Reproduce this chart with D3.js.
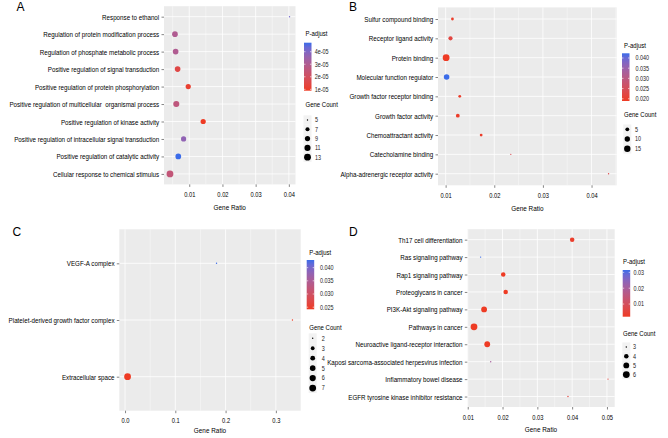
<!DOCTYPE html>
<html><head><meta charset="utf-8">
<script src="https://cdn.jsdelivr.net/npm/d3@7"></script>
<style>body{margin:0;background:#fff} svg{display:block} text{font-family:"Liberation Sans",Arial,sans-serif}</style>
</head><body>
<svg id="c" width="668" height="438"></svg>
<script>
// ---------- DATA ----------
const termsA = ["Response to ethanol","Regulation of protein modification process","Regulation of phosphate metabolic process","Positive regulation of signal transduction","Positive regulation of protein phosphorylation","Positive regulation of multicellular  organismal process","Positive regulation of kinase activity","Positive regulation of intracellular signal transduction","Positive regulation of catalytic activity","Cellular response to chemical stimulus"];
const ratioA = [0.0402, 0.0057, 0.0059, 0.0065, 0.0097, 0.0061, 0.0142, 0.0083, 0.0067, 0.0042];
const countA = [5, 10, 10, 10, 9, 11, 9, 9, 10, 13];
const padjA  = [4.2e-5, 3.0e-5, 3.0e-5, 1.5e-5, 1.1e-5, 2.6e-5, 0.89e-5, 3.7e-5, 4.72e-5, 2.5e-5];
const xTicksA = [0.01, 0.02, 0.03, 0.04];
const pTicksA = [1e-5, 2e-5, 3e-5, 4e-5];
const pLabelsA = ["1e-05","2e-05","3e-05","4e-05"];
const sizeBreaksA = [5, 7, 9, 11, 13];

const termsB = ["Sulfur compound binding","Receptor ligand activity","Protein binding","Molecular function regulator","Growth factor receptor binding","Growth factor activity","Chemoattractant activity","Catecholamine binding","Alpha-adrenergic receptor activity"];
const ratioB = [0.0114, 0.0110, 0.0101, 0.0102, 0.0129, 0.0125, 0.0173, 0.0234, 0.0435];
const countB = [3, 6, 17, 11, 3, 5, 3, 2, 2];
const padjB  = [0.0195, 0.0220, 0.0189, 0.0423, 0.0195, 0.0195, 0.0195, 0.0240, 0.0230];
const xTicksB = [0.01, 0.02, 0.03, 0.04];
const pTicksB = [0.020, 0.025, 0.030, 0.035, 0.040];
const pLabelsB = ["0.020","0.025","0.030","0.035","0.040"];
const sizeBreaksB = [5, 10, 15];

const termsC = ["VEGF-A complex","Platelet-derived growth factor complex","Extracellular space"];
const ratioC = [0.182, 0.333, 0.005];
const countC = [2, 2, 7];
const padjC  = [0.0429, 0.0242, 0.0242];
const xTicksC = [0.0, 0.1, 0.2, 0.3];
const pTicksC = [0.025, 0.030, 0.035, 0.040];
const pLabelsC = ["0.025","0.030","0.035","0.040"];
const sizeBreaksC = [2, 3, 4, 5, 6, 7];

const termsD = ["Th17 cell differentiation","Ras signaling pathway","Rap1 signaling pathway","Proteoglycans in cancer","PI3K-Akt signaling pathway","Pathways in cancer","Neuroactive ligand-receptor interaction","Kaposi sarcoma-associated herpesvirus infection","Inflammatory bowel disease","EGFR tyrosine kinase inhibitor resistance"];
const ratioD = [0.0400, 0.0137, 0.0202, 0.0209, 0.0147, 0.0118, 0.0156, 0.0166, 0.0503, 0.0388];
const countD = [4, 3, 4, 4, 5, 6, 5, 3, 3, 3];
const padjD  = [0.003, 0.0315, 0.002, 0.002, 0.002, 0.002, 0.002, 0.020, 0.006, 0.006];
const xTicksD = [0.01, 0.02, 0.03, 0.04, 0.05];
const pTicksD = [0.01, 0.02, 0.03];
const pLabelsD = ["0.01","0.02","0.03"];
const sizeBreaksD = [3, 4, 5, 6];

// ---------- STYLE / LAYOUT ----------
const LOW = "#ee3b24", HIGH = "#3b6ce9";
const SX = 0.8;
const RMIN = 0.7, RMAX = 3.4;
const svg = d3.select("#c");
const defs = svg.append("defs");

function addText(g, x, y, str, o = {}) {
  return g.append("text")
    .attr("transform", `translate(${x},${y}) scale(${o.sx || SX},1)`)
    .attr("text-anchor", o.anchor || "start")
    .attr("dy", o.dy || "0.35em")
    .style("font-size", (o.size || 7) + "px")
    .style("fill", o.fill || "#000")
    .style("white-space", "pre")
    .text(str);
}

function panel(cfg) {
  const g = svg.append("g");
  const { terms, ratio, count, padj, box, leg } = cfg;
  const ext = d3.extent(ratio), pad = (ext[1] - ext[0]) * 0.05;
  const x = d3.scaleLinear().domain([ext[0] - pad, ext[1] + pad]).range([box.l, box.r]);
  const y = d3.scalePoint().domain(terms).range([box.t, box.b]).padding(0.6);
  const pext = d3.extent(padj);
  const color = d3.scaleLinear().domain(pext).range([LOW, HIGH]).interpolate(d3.interpolateLab);
  const cext = d3.extent(count);
  const rs = d3.scaleSqrt().domain([0, cext[1] - cext[0]]).range([0, RMAX - RMIN]);
  const r = v => RMIN + rs(Math.max(0, v - cext[0]));

  // background
  g.append("rect").attr("x", box.l).attr("y", box.t).attr("width", box.r - box.l).attr("height", box.b - box.t).attr("fill", "#ebebeb");
  // minor grid
  const step = cfg.xTicks[1] - cfg.xTicks[0];
  const minors = d3.range(cfg.xTicks[0] - step / 2, x.domain()[1], step).filter(v => v > x.domain()[0] && v < x.domain()[1]);
  g.selectAll(null).data(minors).join("line")
    .attr("x1", d => x(d)).attr("x2", d => x(d)).attr("y1", box.t).attr("y2", box.b)
    .attr("stroke", "#fff").attr("stroke-width", 0.4);
  g.selectAll(null).data(cfg.xTicks).join("line")
    .attr("x1", d => x(d)).attr("x2", d => x(d)).attr("y1", box.t).attr("y2", box.b)
    .attr("stroke", "#fff").attr("stroke-width", 0.8);
  g.selectAll(null).data(terms).join("line")
    .attr("x1", box.l).attr("x2", box.r).attr("y1", d => y(d)).attr("y2", d => y(d))
    .attr("stroke", "#fff").attr("stroke-width", 0.8);

  // points
  g.selectAll(null).data(terms).join("circle")
    .attr("cx", (d, i) => x(ratio[i])).attr("cy", d => y(d))
    .attr("r", (d, i) => r(count[i])).attr("fill", (d, i) => color(padj[i]));

  // axes
  const xa = g.append("g").attr("transform", `translate(0,${box.b})`)
    .call(d3.axisBottom(x).tickValues(cfg.xTicks).tickFormat(cfg.xFmt).tickSize(2.5).tickPadding(5));
  xa.select(".domain").remove();
  xa.selectAll(".tick line").attr("stroke", "#333").attr("stroke-width", 0.6);
  xa.selectAll(".tick text").attr("transform", `scale(${SX},1)`).style("font-size", "7.2px").attr("fill", "#000")
    .style("font-family", "'Liberation Sans',Arial,sans-serif");

  const ya = g.append("g").attr("transform", `translate(${box.l},0)`)
    .call(d3.axisLeft(y).tickSize(2.5));
  ya.select(".domain").remove();
  ya.selectAll(".tick line").attr("stroke", "#333").attr("stroke-width", 0.6);
  ya.selectAll(".tick text").attr("x", -4.8 / SX).attr("transform", `scale(${SX},1)`)
    .style("font-size", "7.8px").attr("fill", "#000").style("white-space", "pre")
    .style("font-family", "'Liberation Sans',Arial,sans-serif");

  addText(g, (box.l + box.r) / 2, cfg.titleY, "Gene Ratio", { anchor: "middle", size: 8 });

  // letter
  g.append("text").attr("x", cfg.letter.x).attr("y", cfg.letter.y).style("font-size", "12px").text(cfg.letter.t);

  // colour legend
  addText(g, leg.tx, leg.pty, "P-adjust", { size: 7.5 });
  const gid = "grad" + cfg.letter.t;
  const grad = defs.append("linearGradient").attr("id", gid).attr("x1", 0).attr("y1", 1).attr("x2", 0).attr("y2", 0);
  d3.range(0, 1.0001, 0.1).forEach(t => grad.append("stop").attr("offset", t).attr("stop-color", color(pext[0] + t * (pext[1] - pext[0]))));
  g.append("rect").attr("x", leg.bx).attr("y", leg.by0).attr("width", leg.bw).attr("height", leg.by1 - leg.by0).attr("fill", `url(#${gid})`);
  const cy = d3.scaleLinear().domain(pext).range([leg.by1, leg.by0]);
  cfg.pTicks.forEach((v, i) => {
    const yy = cy(v);
    g.append("line").attr("x1", leg.bx).attr("x2", leg.bx + 1.5).attr("y1", yy).attr("y2", yy).attr("stroke", "#fff").attr("stroke-width", 0.6);
    g.append("line").attr("x1", leg.bx + leg.bw - 1.5).attr("x2", leg.bx + leg.bw).attr("y1", yy).attr("y2", yy).attr("stroke", "#fff").attr("stroke-width", 0.6);
    addText(g, leg.lx, yy, cfg.pLabels[i], { size: 6.8, fill: "#1a1a1a" });
  });

  // size legend
  addText(g, leg.tx, leg.gty, "Gene Count", { size: 7.5 });
  cfg.sizeBreaks.forEach((v, i) => {
    const yy = leg.ky0 + i * leg.kstep;
    g.append("rect").attr("x", leg.kx - 4).attr("y", yy - leg.kstep / 2).attr("width", 8).attr("height", leg.kstep).attr("fill", "#f2f2f2");
    g.append("circle").attr("cx", leg.kx).attr("cy", yy).attr("r", r(v)).attr("fill", "#000");
    addText(g, leg.klx, yy, String(v), { size: 6.8, fill: "#1a1a1a" });
  });
}

const f2 = d3.format(".2f"), f1 = d3.format(".1f");

panel({ terms: termsA, ratio: ratioA, count: countA, padj: padjA, xTicks: xTicksA, xFmt: f2,
  pTicks: pTicksA, pLabels: pLabelsA, sizeBreaks: sizeBreaksA,
  box: { l: 164, r: 295.5, t: 6.2, b: 184.4 }, titleY: 207.5, letter: { t: "A", x: 16.5, y: 11.2 },
  leg: { tx: 305.5, pty: 33.7, bx: 304, bw: 7.5, by0: 42.7, by1: 90.7, lx: 314.7, gty: 104, kx: 307.5, ky0: 120, kstep: 9.3, klx: 315 } });

panel({ terms: termsB, ratio: ratioB, count: countB, padj: padjB, xTicks: xTicksB, xFmt: f2,
  pTicks: pTicksB, pLabels: pLabelsB, sizeBreaks: sizeBreaksB,
  box: { l: 438, r: 616.7, t: 7.4, b: 185.3 }, titleY: 207.7, letter: { t: "B", x: 349, y: 11 },
  leg: { tx: 624, pty: 45.3, bx: 622, bw: 7.5, by0: 53.3, by1: 101, lx: 635.5, gty: 114, kx: 627.3, ky0: 129.3, kstep: 9.7, klx: 635 } });

panel({ terms: termsC, ratio: ratioC, count: countC, padj: padjC, xTicks: xTicksC, xFmt: f1,
  pTicks: pTicksC, pLabels: pLabelsC, sizeBreaks: sizeBreaksC,
  box: { l: 119.3, r: 300.7, t: 229.3, b: 410.7 }, titleY: 430, letter: { t: "C", x: 12.5, y: 236.3 },
  leg: { tx: 309.3, pty: 252.7, bx: 306.7, bw: 7.5, by0: 260, by1: 309.3, lx: 320, gty: 327.3, kx: 312.7, ky0: 338.3, kstep: 9.95, klx: 321.7 } });

panel({ terms: termsD, ratio: ratioD, count: countD, padj: padjD, xTicks: xTicksD, xFmt: f2,
  pTicks: pTicksD, pLabels: pLabelsD, sizeBreaks: sizeBreaksD,
  box: { l: 467.3, r: 614.7, t: 229.2, b: 407 }, titleY: 429.3, letter: { t: "D", x: 349, y: 235.8 },
  leg: { tx: 623, pty: 261, bx: 622.7, bw: 7.5, by0: 270, by1: 316.7, lx: 633.5, gty: 333.3, kx: 626.3, ky0: 347, kstep: 9.2, klx: 633 } });
</script>
</body></html>
